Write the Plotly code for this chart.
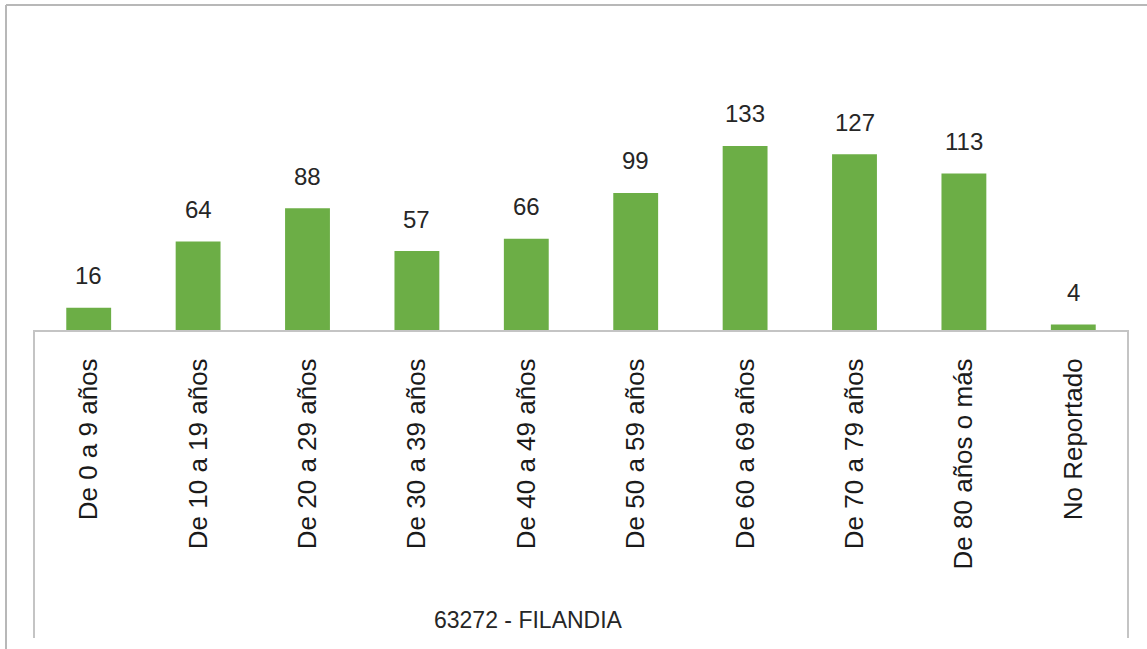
import plotly.graph_objects as go

categories = ["De 0 a 9 años", "De 10 a 19 años", "De 20 a 29 años", "De 30 a 39 años",
              "De 40 a 49 años", "De 50 a 59 años", "De 60 a 69 años", "De 70 a 79 años",
              "De 80 años o más", "No Reportado"]
values = [16, 64, 88, 57, 66, 99, 133, 127, 113, 4]
axis_title = "63272 - FILANDIA"

W, H = 1147, 649
# target plot-area in page pixels: x 34..1128, y 20..330
PX0, PX1, PY0, PY1 = 34, 1128, 20, 330
L = PX0
R = W - PX1
T = PY0
B = H - PY1
pw = PX1 - PX0
ph = PY1 - PY0

def px_x(x):
    return (x - PX0) / pw

def px_y(y):
    return (PY1 - y) / ph

fig = go.Figure()
fig.add_trace(go.Bar(
    x=categories, y=values,
    marker=dict(color="#6cae46", line=dict(width=0)),
    width=0.41,
    hoverinfo="x+y",
))

for c, v in zip(categories, values):
    fig.add_annotation(x=c, y=v, text=str(v), showarrow=False,
                       yanchor="middle", yshift=32,
                       font=dict(family="Liberation Sans, Arial, sans-serif", size=24, color="#262626"))

fig.add_annotation(xref="paper", yref="paper", x=px_x(528), y=px_y(620), text=axis_title,
                   showarrow=False, xanchor="center", yanchor="middle",
                   font=dict(family="Liberation Sans, Arial, sans-serif", size=23, color="#262626"))

line_col = "#c4c4c4"
shapes = [
    dict(type="line", xref="paper", yref="paper", x0=0, x1=0, y0=0, y1=px_y(638),
         line=dict(color=line_col, width=2)),
    dict(type="line", xref="paper", yref="paper", x0=1, x1=1, y0=0, y1=px_y(638),
         line=dict(color=line_col, width=2)),
    dict(type="line", xref="paper", yref="paper", x0=px_x(6), x1=px_x(1160), y0=px_y(5), y1=px_y(5),
         line=dict(color="#b8b8b8", width=2)),
    dict(type="line", xref="paper", yref="paper", x0=px_x(6), x1=px_x(6), y0=px_y(5), y1=px_y(660),
         line=dict(color="#b8b8b8", width=2)),
]

fig.update_layout(
    width=W, height=H,
    margin=dict(l=L, r=R, t=T, b=B),
    paper_bgcolor="white", plot_bgcolor="white",
    showlegend=False,
    shapes=shapes,
    xaxis=dict(
        showline=True, linecolor=line_col, linewidth=2,
        tickangle=-90, ticks="", ticklabelstandoff=16,
        tickfont=dict(family="Liberation Sans, Arial, sans-serif", size=26, color="#1a1a1a"),
        showgrid=False, zeroline=False, fixedrange=True,
    ),
    yaxis=dict(
        range=[0, 224], visible=False, showgrid=False, zeroline=False, fixedrange=True,
    ),
)

fig.write_html("out.html",
               config={"displayModeBar": False},
               post_script="document.body.style.margin='0';document.body.style.overflow='hidden';")
